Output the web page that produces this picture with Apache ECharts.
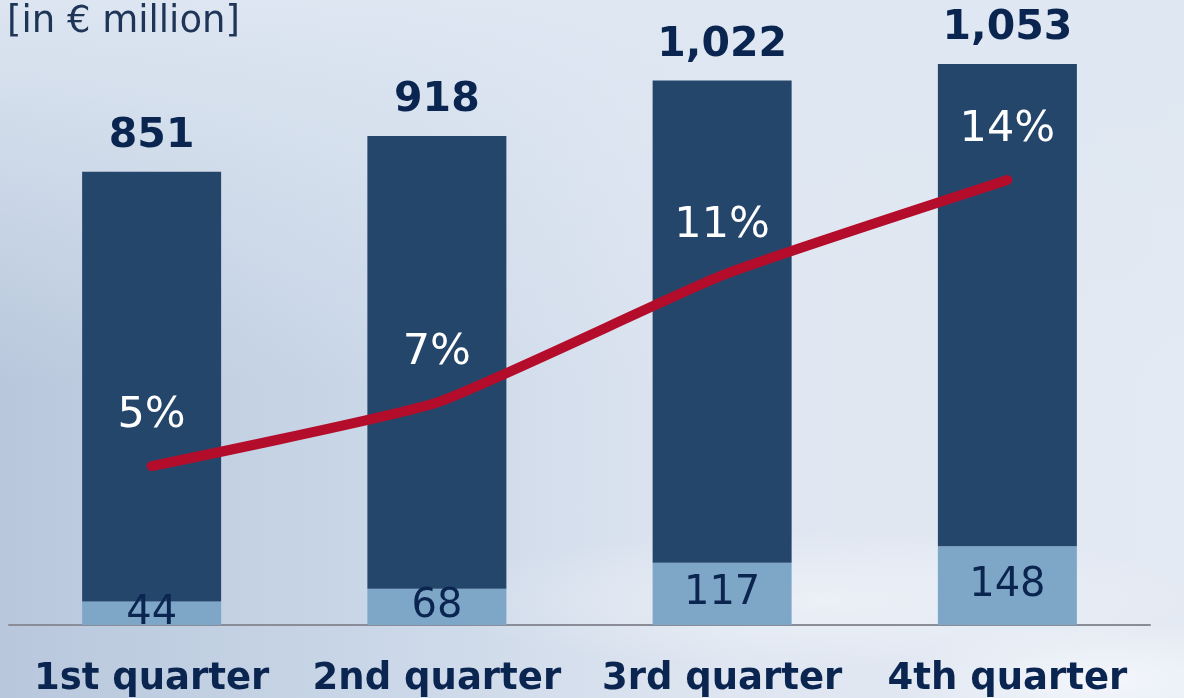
<!DOCTYPE html>
<html>
<head>
<meta charset="utf-8">
<title>Quarterly figures</title>
<script src="https://cdn.jsdelivr.net/npm/echarts@6/dist/echarts.min.js"></script>
<style>
  html, body { margin: 0; padding: 0; }
  body {
    width: 1184px; height: 698px; overflow: hidden;
    background:
      radial-gradient(ellipse 380px 70px at 820px 600px, rgba(245,248,252,0.55), rgba(245,248,252,0) 100%),
      radial-gradient(ellipse 200px 60px at 1100px 680px, rgba(250,252,255,0.7), rgba(250,252,255,0) 100%),
      linear-gradient(to bottom, rgba(222,231,242,0.95) 0%, rgba(222,231,242,0) 55%),
      linear-gradient(to right, #b8c7dc 0%, #c9d6e7 30%, #dfe6f1 62%, #e4eaf3 100%);
  }
  #chart { width: 1184px; height: 698px; }
</style>
</head>
<body>
<div id="chart"></div>
<script>
// Werte
const quarters = ['1st quarter', '2nd quarter', '3rd quarter', '4th quarter'];
const totals = [851, 918, 1022, 1053];      // Gesamtwert (dunkel + hell)
const lowerPart = [44, 68, 117, 148];       // heller Sockel
const shares = [5, 7, 11, 14];              // Anteil in %

const NAVY = '#0b2551';
const FONT = 'DejaVu Sans';

const upperPart = totals.map((t, i) => t - lowerPart[i]);

const chart = echarts.init(document.getElementById('chart'));

chart.setOption({
  backgroundColor: 'transparent',
  animation: false,
  textStyle: { fontFamily: FONT },
  title: {
    text: '[in € million]',
    left: 7, top: 4, padding: 0,
    textStyle: { fontFamily: FONT, fontSize: 37, fontWeight: 'normal', color: '#1e3558' }
  },
  grid: { left: 9, right: 34, top: 39, bottom: 73, containLabel: false },
  xAxis: {
    type: 'category',
    data: quarters,
    axisLine: { lineStyle: { color: '#8a8c98', width: 2 } },
    axisTick: { show: false },
    axisLabel: { color: NAVY, fontFamily: FONT, fontSize: 37, fontWeight: 'bold', margin: 36, interval: 0 }
  },
  yAxis: [
    { type: 'value', min: 0, max: 1100, show: false },
    { type: 'value', min: 0, max: 18.44, show: false }
  ],
  series: [
    {
      name: 'lower',
      type: 'bar',
      stack: 'q',
      barWidth: 139,
      data: lowerPart,
      itemStyle: { color: '#7ea6c6' },
      label: {
        show: true, position: 'inside',
        color: NAVY, fontFamily: FONT, fontSize: 40
      }
    },
    {
      name: 'upper',
      type: 'bar',
      stack: 'q',
      barWidth: 139,
      data: upperPart,
      itemStyle: { color: '#25466b' },
      label: {
        show: true, position: 'top', distance: 15,
        color: NAVY, fontFamily: FONT, fontSize: 41, fontWeight: 'bold',
        formatter: p => totals[p.dataIndex].toLocaleString('en-US')
      }
    },
    {
      name: 'share',
      type: 'line',
      yAxisIndex: 1,
      data: shares,
      smooth: 0.15,
      symbol: 'circle',
      symbolSize: 1,
      itemStyle: { color: '#b40d2b' },
      lineStyle: { color: '#b40d2b', width: 10, cap: 'round', join: 'round' },
      label: {
        show: true, position: 'top', distance: 28,
        color: '#ffffff', fontFamily: FONT, fontSize: 43,
        formatter: '{c}%'
      },
      z: 5
    }
  ]
});
</script>
</body>
</html>
